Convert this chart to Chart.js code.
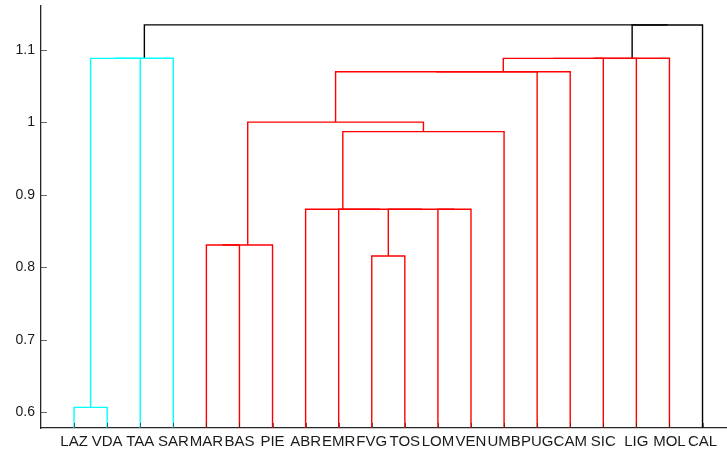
<!DOCTYPE html>
<html>
<head>
<meta charset="utf-8">
<script src="https://cdn.jsdelivr.net/npm/chart.js@4/dist/chart.umd.min.js"></script>
<style>
  html, body { margin: 0; padding: 0; background: #fff; overflow: hidden; }
  canvas { display: block; }
</style>
</head>
<body>
<canvas id="dendro" width="727" height="451"></canvas>
<script>
// ---------------- DENDROGRAM (regions clustering) ----------------

// leaf order, left to right
const leaves = ["LAZ", "VDA", "TAA", "SAR", "MAR", "BAS", "PIE", "ABR", "EMR", "FVG",
                "TOS", "LOM", "VEN", "UMB", "PUG", "CAM", "SIC", "LIG", "MOL", "CAL"];

// linkage: nodes 1..20 are leaves, node 20+k is the k-th merge
const linkLeft   = [1, 21, 22, 5, 24, 10, 12, 26, 9, 8, 30, 25, 32, 33, 34, 35, 36, 37, 23];
const linkRight  = [2, 3, 4, 6, 7, 11, 13, 27, 28, 29, 14, 31, 15, 16, 17, 18, 19, 20, 38];
const linkHeight = [0.6068, 1.0884, 1.0885, 0.8308, 0.8309, 0.8157, 0.8801, 0.8801, 0.8802, 0.8802,
                    0.9873, 1.0005, 1.0699, 1.0700, 1.0884, 1.0884, 1.0885, 1.1345, 1.1346];

const yTicks = [0.6, 0.7, 0.8, 0.9, 1, 1.1];
const yTickLabels = ["0.6", "0.7", "0.8", "0.9", "1", "1.1"];

const colorThreshold = 1.1;
const clusterColors = ["#00ffff", "#ff0000"];
const aboveColor = "#000000";
const axisColor = "#262626";

// x position / height of every node
const nLeaves = leaves.length;
const nodeX = {}, nodeH = {};
leaves.forEach((_, i) => { nodeX[i + 1] = i + 1; nodeH[i + 1] = 0; });
linkHeight.forEach((h, k) => {
    const id = nLeaves + 1 + k;
    nodeX[id] = (nodeX[linkLeft[k]] + nodeX[linkRight[k]]) / 2;
    nodeH[id] = h;
});

// colour each link like matlab's ColorThreshold
const linkColor = [];
let nextCluster = 0;
function paint(node, color) {
    if (node <= nLeaves) return;
    const k = node - nLeaves - 1;
    let c = color;
    if (linkHeight[k] >= colorThreshold) c = null;
    else if (!c) c = clusterColors[nextCluster++ % clusterColors.length];
    linkColor[k] = c || aboveColor;
    paint(linkLeft[k], c);
    paint(linkRight[k], c);
}
paint(nLeaves + linkHeight.length, null);

const datasets = linkHeight.map((h, k) => {
    const a = linkLeft[k], b = linkRight[k];
    return {
        data: [
            { x: nodeX[a], y: nodeH[a] },
            { x: nodeX[a], y: h },
            { x: nodeX[b], y: h },
            { x: nodeX[b], y: nodeH[b] }
        ],
        showLine: true,
        borderColor: linkColor[k],
        borderWidth: 1.4,
        pointRadius: 0,
        tension: 0
    };
});

// matlab style inward tick marks
const inwardTicks = {
    id: "inwardTicks",
    afterDatasetsDraw(chart) {
        const { ctx, chartArea, scales } = chart;
        ctx.save();
        ctx.strokeStyle = "rgba(38,38,38,0.7)";
        ctx.lineWidth = 1;
        ctx.beginPath();
        yTicks.forEach(v => {
            const y = Math.round(scales.y.getPixelForValue(v)) + 0.5;
            ctx.moveTo(chartArea.left, y);
            ctx.lineTo(chartArea.left + 6, y);
        });
        leaves.forEach((_, i) => {
            const x = Math.round(scales.x.getPixelForValue(i + 1)) + 0.5;
            ctx.moveTo(x, chartArea.bottom);
            ctx.lineTo(x, chartArea.bottom - 5);
        });
        ctx.stroke();
        ctx.restore();
    }
};

new Chart(document.getElementById("dendro"), {
    type: "scatter",
    data: { datasets },
    options: {
        responsive: false,
        animation: false,
        layout: { padding: { top: 6, right: 0, left: 0, bottom: 0 } },
        plugins: { legend: { display: false }, tooltip: { enabled: false } },
        scales: {
            x: {
                type: "linear",
                min: 0,
                max: 20.74,
                afterBuildTicks: s => { s.ticks = leaves.map((_, i) => ({ value: i + 1 })); },
                afterFit: s => { s.height = 23; s.paddingLeft = 0; s.paddingRight = 0; },
                grid: { display: true, drawOnChartArea: false, drawTicks: false },
                border: { display: true, color: axisColor, width: 1.3 },
                ticks: {
                    autoSkip: false,
                    maxRotation: 0,
                    padding: 5,
                    color: "#1a1a1a",
                    font: { family: "'Liberation Sans Narrow', 'Arial Narrow', 'Liberation Sans', Arial", size: 15 },
                    callback: v => leaves[v - 1]
                }
            },
            y: {
                type: "linear",
                min: 0.5783,
                max: 1.1607,
                afterBuildTicks: s => { s.ticks = yTicks.map(v => ({ value: v })); },
                afterFit: s => { s.width = 41; s.paddingTop = 0; s.paddingBottom = 0; },
                grid: { display: true, drawOnChartArea: false, drawTicks: false },
                border: { display: true, color: axisColor, width: 1.3 },
                ticks: {
                    padding: 6,
                    color: "#1a1a1a",
                    font: { family: "'Liberation Sans', Arial", size: 14 },
                    callback: v => yTickLabels[yTicks.indexOf(v)]
                }
            }
        }
    },
    plugins: [inwardTicks]
});
</script>
</body>
</html>
